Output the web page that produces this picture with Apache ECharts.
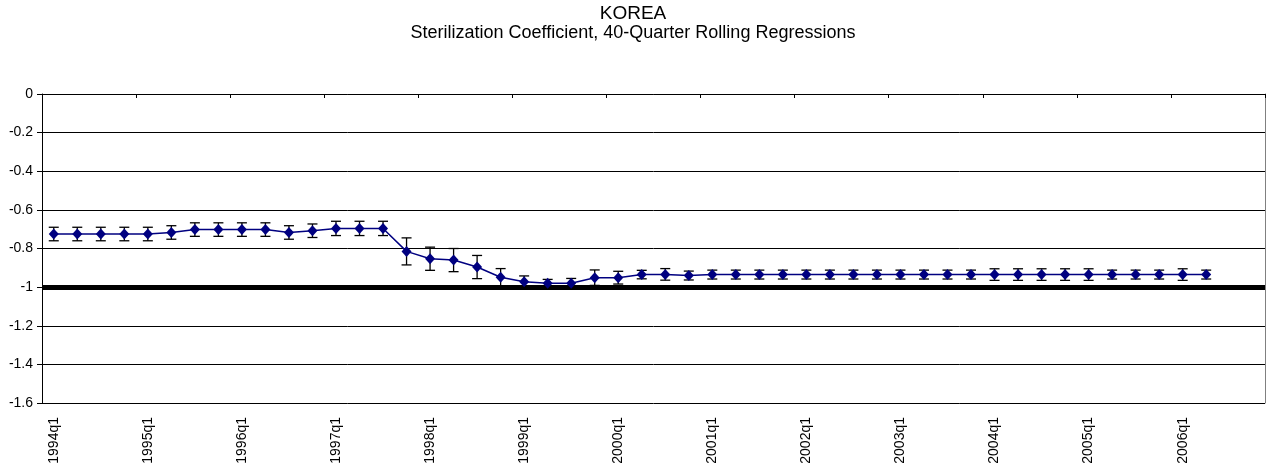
<!DOCTYPE html>
<html><head><meta charset="utf-8">
<script src="https://cdn.jsdelivr.net/npm/echarts@6/dist/echarts.min.js"></script>
<style>html,body{margin:0;padding:0;background:#fff}#c{width:1266px;height:469px}</style>
</head><body><div id="c"></div>
<script>
const titleText = 'KOREA';
const subtitleText = 'Sterilization Coefficient, 40-Quarter Rolling Regressions';
const categories = [
  '1994q1','1994q2','1994q3','1994q4','1995q1','1995q2','1995q3','1995q4',
  '1996q1','1996q2','1996q3','1996q4','1997q1','1997q2','1997q3','1997q4',
  '1998q1','1998q2','1998q3','1998q4','1999q1','1999q2','1999q3','1999q4',
  '2000q1','2000q2','2000q3','2000q4','2001q1','2001q2','2001q3','2001q4',
  '2002q1','2002q2','2002q3','2002q4','2003q1','2003q2','2003q3','2003q4',
  '2004q1','2004q2','2004q3','2004q4','2005q1','2005q2','2005q3','2005q4',
  '2006q1','2006q2','2006q3','2006q4'
];
const coefficient = [
  -0.725,-0.725,-0.725,-0.725,-0.725,-0.717,-0.702,-0.702,-0.702,-0.702,
  -0.717,-0.708,-0.696,-0.696,-0.696,-0.815,-0.853,-0.860,-0.896,-0.949,
  -0.972,-0.980,-0.980,-0.951,-0.951,-0.935,-0.934,-0.940,-0.935,-0.935,
  -0.935,-0.935,-0.935,-0.935,-0.935,-0.935,-0.935,-0.935,-0.935,-0.935,
  -0.935,-0.935,-0.935,-0.935,-0.935,-0.935,-0.935,-0.935,-0.935,-0.935
];
const errorHalf = [
  0.035,0.035,0.035,0.035,0.035,0.035,0.035,0.035,0.035,0.035,
  0.035,0.035,0.037,0.037,0.037,0.070,0.060,0.060,0.060,0.045,
  0.030,0.020,0.025,0.040,0.033,0.022,0.030,0.023,0.023,0.023,
  0.023,0.023,0.023,0.023,0.023,0.023,0.023,0.023,0.023,0.023,
  0.030,0.030,0.030,0.030,0.030,0.023,0.023,0.023,0.030,0.023
];
const referenceLevel = -1;
const yTickLabels = ['0','-0.2','-0.4','-0.6','-0.8','-1','-1.2','-1.4','-1.6'];

const errorData = coefficient.map((v, i) => [i, v - errorHalf[i], v + errorHalf[i]]);
const FONT = '"Liberation Sans", Arial, sans-serif';

const chart = echarts.init(document.getElementById('c'), null, {renderer: 'canvas'});
chart.setOption({
  animation: false,
  backgroundColor: '#fff',
  title: {
    text: titleText, subtext: subtitleText, left: 'center', top: -1, itemGap: 1,
    textStyle: {fontFamily: FONT, fontSize: 19, fontWeight: 'normal', color: '#000'},
    subtextStyle: {fontFamily: FONT, fontSize: 18, color: '#000'}
  },
  grid: {left: 42, right: 1, top: 94, bottom: 66, containLabel: false},
  xAxis: [{
    type: 'category', data: categories, boundaryGap: true, position: 'bottom',
    axisLine: {show: true, lineStyle: {color: '#808080', width: 1}},
    axisTick: {show: false},
    axisLabel: {interval: 3, rotate: 90, margin: 14, fontFamily: FONT, fontSize: 14, color: '#000'},
    splitLine: {show: false}
  }, {
    type: 'category', data: categories, boundaryGap: true, position: 'top',
    axisLine: {show: true, lineStyle: {color: '#000', width: 1}},
    axisTick: {show: true, inside: true, interval: 3, length: 4, lineStyle: {color: '#000'}},
    axisLabel: {show: false},
    splitLine: {show: false}
  }],
  yAxis: [{
    type: 'value', min: -1.6, max: 0, interval: 0.2,
    axisLine: {show: true, lineStyle: {color: '#000', width: 1}},
    axisTick: {show: true, length: 5, lineStyle: {color: '#000'}},
    axisLabel: {
      margin: 9, fontFamily: FONT, fontSize: 14, color: '#000',
      formatter: v => yTickLabels[Math.round(-v / 0.2)]
    },
    splitLine: {show: true, lineStyle: {color: '#000', width: 1}}
  }, {
    type: 'value', min: -1.6, max: 0, interval: 0.2, position: 'right',
    axisLine: {show: true, lineStyle: {color: '#808080', width: 1}},
    axisTick: {show: false}, axisLabel: {show: false}, splitLine: {show: false}
  }],
  series: [{
    type: 'custom', name: 'error', z: 1,
    xAxisIndex: 0, yAxisIndex: 0,
    data: errorData,
    renderItem: function (params, api) {
      const x = api.value(0);
      const lo = api.coord([x, api.value(1)]);
      const hi = api.coord([x, api.value(2)]);
      const w = 5;
      const st = {stroke: '#000', lineWidth: 1.3};
      return {type: 'group', children: [
        {type: 'line', shape: {x1: hi[0], y1: hi[1], x2: lo[0], y2: lo[1]}, style: st},
        {type: 'line', shape: {x1: hi[0] - w, y1: hi[1], x2: hi[0] + w, y2: hi[1]}, style: st},
        {type: 'line', shape: {x1: lo[0] - w, y1: lo[1], x2: lo[0] + w, y2: lo[1]}, style: st}
      ]};
    }
  }, {
    type: 'line', name: 'coefficient', z: 3,
    xAxisIndex: 0, yAxisIndex: 0,
    data: coefficient,
    symbol: 'diamond', symbolSize: [10, 11],
    itemStyle: {color: '#000080'},
    lineStyle: {color: '#000080', width: 1.5},
    markLine: {
      silent: true, symbol: 'none', z: 2,
      label: {show: false},
      lineStyle: {color: '#000', width: 5, type: 'solid'},
      data: [{yAxis: referenceLevel}]
    }
  }]
});
</script></body></html>
